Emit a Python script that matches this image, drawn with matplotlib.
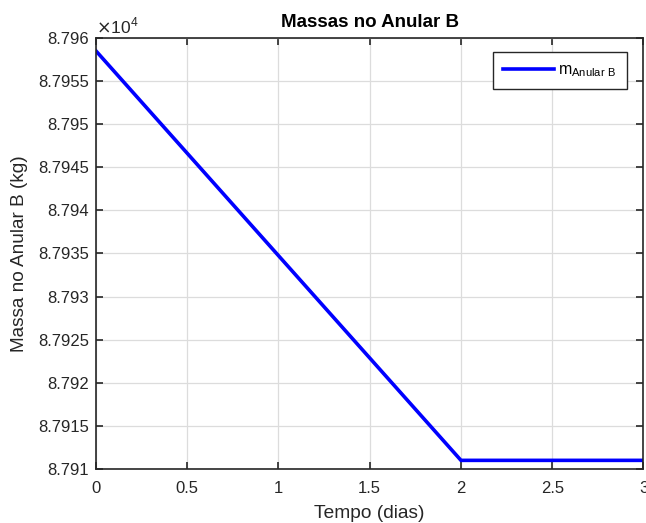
import matplotlib
matplotlib.use("Agg")
import matplotlib.pyplot as plt
from matplotlib.ticker import FixedLocator

plt.rcParams['font.family'] = ['Liberation Sans', 'DejaVu Sans']

# Mass in annulus B over time
tempo_dias = [0.0, 2.0, 3.0]
massa_kg = [87958.5, 87911.0, 87911.0]

xticks = [0, 0.5, 1, 1.5, 2, 2.5, 3]
xtick_labels = ['0', '0.5', '1', '1.5', '2', '2.5', '3']
yticks = [8.791, 8.7915, 8.792, 8.7925, 8.793, 8.7935, 8.794, 8.7945, 8.795, 8.7955, 8.796]
ytick_labels = ['8.791', '8.7915', '8.792', '8.7925', '8.793', '8.7935', '8.794', '8.7945', '8.795', '8.7955', '8.796']

fig = plt.figure(figsize=(6.46, 5.23), dpi=100)
ax = fig.add_axes([0.1486, 0.1033, 0.8475, 0.824])

scale = 1e4
ax.plot(tempo_dias, [m / scale for m in massa_kg], color='#0000ff', lw=2.6,
        label=r'm$_{\mathregular{Anular\ B}}$', solid_joinstyle='miter')

ax.set_xlim(0, 3)
ax.set_ylim(8.791, 8.796)
ax.xaxis.set_major_locator(FixedLocator(xticks))
ax.set_xticklabels(xtick_labels)
ax.yaxis.set_major_locator(FixedLocator(yticks))
ax.set_yticklabels(ytick_labels)

ax.grid(True, color='#dcdcdc', lw=0.9)
ax.set_axisbelow(True)
ax.tick_params(direction='in', length=5, width=1.2, top=True, right=True,
               labelsize=12, colors='#262626')
ax.tick_params(axis='x', pad=9)
ax.tick_params(axis='y', pad=5)
for s in ax.spines.values():
    s.set_color('#262626')
    s.set_linewidth(1.2)

ax.set_xlabel('Tempo (dias)', fontsize=13.8, color='#262626', labelpad=6)
ax.set_ylabel('Massa no Anular B (kg)', fontsize=13.7, color='#262626', labelpad=7)
ax.set_title('Massas no Anular B', fontsize=13.5, fontweight='bold', color='black', pad=8)

ax.text(0.0, 1.004, r'$\times\mathregular{10}^{\mathregular{4}}$', transform=ax.transAxes,
        fontsize=12.5, color='#262626', ha='left', va='bottom')

leg = ax.legend(loc='upper right', bbox_to_anchor=(0.970, 0.968), borderaxespad=0,
                fontsize=11.5, handlelength=3.2, handletextpad=0.25, borderpad=0.65,
                fancybox=False, framealpha=1, edgecolor='#262626')
leg.get_frame().set_linewidth(1.0)

fig.savefig('out.png', dpi=100)
